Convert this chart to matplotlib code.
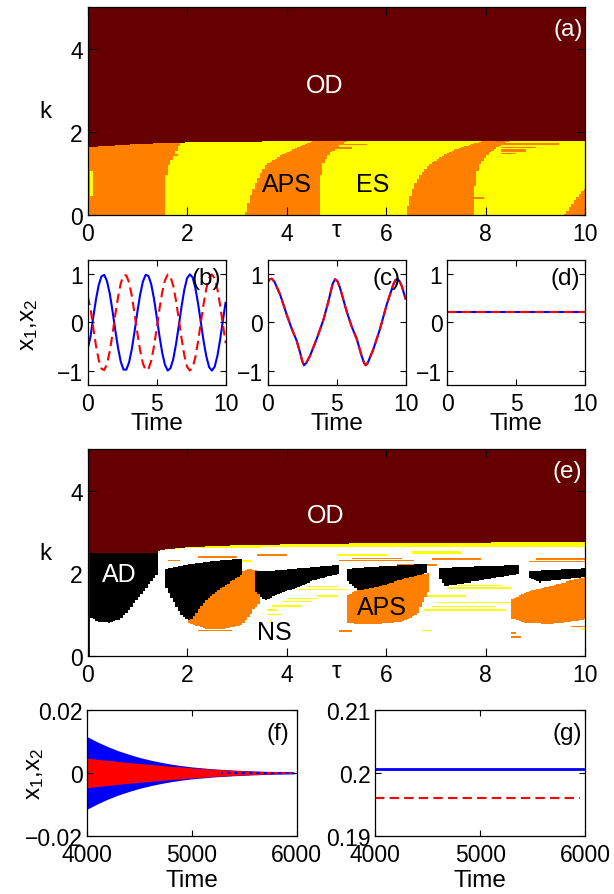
import numpy as np
import matplotlib
matplotlib.use('Agg')
import matplotlib.pyplot as plt
from matplotlib.colors import ListedColormap, BoundaryNorm

plt.rcParams['font.family'] = ['Liberation Sans', 'DejaVu Sans']
plt.rcParams['mathtext.fontset'] = 'custom'
plt.rcParams['mathtext.rm'] = 'Liberation Sans'
plt.rcParams['mathtext.it'] = 'Liberation Sans'
plt.rcParams['axes.linewidth'] = 0.9

# ------------------------------------------------------------------ data
state_names = ['NS', 'ES', 'APS', 'AD', 'OD']
state_colors = ['#FFFFFF', '#FFFF00', '#FF8000', '#000000', '#660000']

tau_ticks = [0, 2, 4, 6, 8, 10]
k_ticks = [0, 2, 4]

# panel (a): OD boundary k(tau)
a_od_tau = [0.0, 0.5, 1.0, 1.5, 2.0, 3.0, 5.0, 10.0]
a_od_k = [1.62, 1.66, 1.70, 1.72, 1.74, 1.76, 1.77, 1.77]
# APS/ES band boundaries: tau position at given k levels
a_band_k = [0.0, 0.4, 0.8, 1.2, 1.5, 1.8]
a_b1 = [1.55, 1.55, 1.55, 1.62, 1.75, 1.90]
a_b2 = [3.16, 3.25, 3.38, 3.57, 3.95, 4.60]
a_b3 = [4.65, 4.65, 4.66, 4.70, 4.85, 5.25]
a_b4 = [6.38, 6.46, 6.58, 6.85, 7.20, 8.00]
a_b5 = [7.75, 7.76, 7.78, 7.85, 8.05, 8.50]
a_b6 = [9.56, 9.80, 10.10, 10.50, 11.00, 11.50]
a_es_patch = [0.04, 0.12, 0.45, 1.05]  # tau0, tau1, k0, k1
# APS streaks reaching into ES bands: tau0, tau1, k
a_streak_t0 = [8.30, 8.30, 8.30, 8.30, 4.85, 4.90, 1.60, 7.60]
a_streak_t1 = [9.45, 9.00, 8.80, 8.60, 5.60, 5.30, 1.80, 7.95]
a_streak_k = [1.70, 1.62, 1.55, 1.48, 1.68, 1.60, 1.45, 0.40]

# panel (e)
e_od_tau = [0.0, 1.42, 1.45, 2.0, 3.0, 5.0, 7.0, 10.0]
e_od_k = [2.51, 2.51, 2.55, 2.62, 2.67, 2.71, 2.73, 2.75]
e_od_strip_tau = 0.04
e_es_band_tau = [1.45, 3.0, 5.0, 7.0, 10.0]
e_es_band_w = [0.0, 0.06, 0.09, 0.11, 0.13]

e_ad1_tau = [0.04, 0.24, 0.44, 0.64, 0.84, 1.05, 1.25, 1.42]
e_ad1_klo = [0.93, 0.83, 0.81, 0.89, 1.13, 1.46, 1.78, 2.00]
e_ad1_khi = [2.51, 2.51, 2.51, 2.51, 2.51, 2.51, 2.51, 2.51]
e_ad2_tau = [1.55, 1.85, 2.05, 2.38, 2.72, 3.12]
e_ad2_klo = [1.70, 1.01, 0.85, 1.37, 1.68, 1.98]
e_ad2_khi = [2.10, 2.17, 2.22, 2.28, 2.32, 2.36]
e_ad3_tau = [3.33, 3.55, 3.86, 4.20, 4.53, 5.03]
e_ad3_klo = [1.62, 1.33, 1.53, 1.66, 1.82, 1.98]
e_ad3_khi = [2.04, 2.05, 2.07, 2.11, 2.15, 2.20]
e_ad4_tau = [5.20, 5.44, 5.84, 6.24, 6.80]
e_ad4_klo = [1.82, 1.58, 1.69, 1.82, 2.00]
e_ad4_khi = [2.10, 2.13, 2.16, 2.19, 2.23]
e_ad5_tau = [7.05, 7.18, 7.89, 8.66]
e_ad5_klo = [1.90, 1.70, 1.82, 1.98]
e_ad5_khi = [2.12, 2.13, 2.17, 2.20]
e_ad6_tau = [8.86, 9.05, 10.0]
e_ad6_klo = [1.88, 1.78, 1.90]
e_ad6_khi = [2.04, 2.06, 2.12]

e_aps1_tau = [2.00, 2.38, 2.72, 3.10, 3.25, 3.45, 3.50]
e_aps1_klo = [0.80, 0.66, 0.65, 0.75, 1.00, 1.30, 1.80]
e_aps1_khi = [0.90, 1.45, 1.75, 2.05, 2.10, 2.05, 2.00]
e_aps2_tau = [5.20, 5.44, 5.84, 6.24, 6.60, 6.85]
e_aps2_klo = [0.80, 0.78, 0.78, 0.82, 1.00, 1.60]
e_aps2_khi = [1.45, 1.62, 1.72, 1.85, 1.95, 2.00]
e_aps3_tau = [8.50, 8.80, 9.30, 9.80, 10.0]
e_aps3_klo = [0.92, 0.80, 0.78, 0.85, 0.90]
e_aps3_khi = [1.35, 1.55, 1.70, 1.85, 1.90]

# thin streaks in (e): tau0, tau1, k, state
e_streak_t0 = [3.60, 3.62, 3.90, 4.00, 4.20, 4.40, 3.65, 4.60, 3.70,
               6.75, 6.90, 7.00, 7.20, 7.40, 6.70, 6.80, 9.50, 9.90, 2.80, 5.00, 6.50,
               5.07, 5.30, 8.86, 9.00, 6.90, 8.50, 8.52, 5.07, 1.58, 2.20, 3.40, 6.20, 2.20, 9.70]
e_streak_t1 = [3.90, 3.80, 4.50, 4.60, 5.20, 5.00, 3.72, 5.00, 4.30,
               8.40, 8.20, 8.50, 8.50, 8.30, 6.90, 7.60, 10.0, 10.0, 3.30, 6.00, 7.50,
               6.55, 6.30, 10.0, 10.0, 7.90, 8.70, 8.62, 5.30, 1.85, 3.00, 4.00, 7.00, 2.90, 10.0]
e_streak_k = [1.02, 1.10, 1.32, 1.38, 1.62, 1.68, 0.85, 1.45, 1.20,
              1.10, 1.18, 1.28, 1.65, 1.72, 0.62, 1.45, 1.20, 0.65, 2.30, 2.45, 2.50,
              2.32, 2.37, 2.28, 2.35, 2.35, 0.45, 0.55, 0.60, 2.32, 2.40, 2.45, 2.20, 0.62, 0.72]
e_streak_state = [1] * 21 + [2] * 14

# panel (b): anti-phase oscillation
b_time = np.linspace(0, 10, 51)
b_x1 = [-0.55, -0.30, 0.10, 0.48, 0.78, 0.96, 0.99, 0.86, 0.60, 0.24, -0.16,
        -0.53, -0.82, -0.98, -0.98, -0.83, -0.55, -0.18, 0.22, 0.58, 0.85,
        0.99, 0.97, 0.80, 0.50, 0.12, -0.28, -0.63, -0.88, -1.00, -0.95,
        -0.76, -0.45, -0.07, 0.33, 0.68, 0.92, 1.00, 0.94, 0.72, 0.39,
        0.00, -0.39, -0.71, -0.93, -1.00, -0.92, -0.69, -0.35, 0.05, 0.43]
b_x2 = [0.55, 0.30, -0.10, -0.48, -0.78, -0.96, -0.99, -0.86, -0.60, -0.24, 0.16,
        0.53, 0.82, 0.98, 0.98, 0.83, 0.55, 0.18, -0.22, -0.58, -0.85,
        -0.99, -0.97, -0.80, -0.50, -0.12, 0.28, 0.63, 0.88, 1.00, 0.95,
        0.76, 0.45, 0.07, -0.33, -0.68, -0.92, -1.00, -0.94, -0.72, -0.39,
        0.00, 0.39, 0.71, 0.93, 1.00, 0.92, 0.69, 0.35, -0.05, -0.43]

# panel (c): in-phase oscillation (x1 = x2)
c_time = [0, 0.15, 0.3, 0.5, 0.9, 1.38, 1.74, 2.1, 2.34, 2.5, 2.63, 2.8, 3.07,
          3.55, 4.03, 4.4, 4.7, 4.88, 5.05, 5.24, 5.72, 6.09, 6.45, 6.81, 6.98,
          7.1, 7.25, 7.66, 8.14, 8.62, 9.1, 9.25, 9.38, 9.55, 9.71, 10.0]
c_x1 = [0.84, 0.90, 0.91, 0.84, 0.58, 0.16, -0.13, -0.38, -0.62, -0.80, -0.89,
        -0.84, -0.69, -0.34, 0.05, 0.44, 0.80, 0.90, 0.86, 0.72, 0.23, -0.09,
        -0.34, -0.70, -0.84, -0.89, -0.84, -0.55, -0.13, 0.37, 0.79, 0.88,
        0.91, 0.86, 0.76, 0.48]
c_x2 = c_x1

# panel (d): steady state
d_time = [0, 10]
d_x1 = [0.21, 0.21]
d_x2 = [0.21, 0.21]

# panel (f): decaying oscillation envelopes
f_time = [4000, 4100, 4200, 4300, 4400, 4500, 4600, 4700, 4800, 4900, 5000,
          5200, 5400, 5600, 5800, 5975]
f_amp1 = [0.0115, 0.0098, 0.0083, 0.0070, 0.0059, 0.0049, 0.0041, 0.0034,
          0.0028, 0.0023, 0.0019, 0.0013, 0.0009, 0.0006, 0.0004, 0.0003]
f_amp2 = [0.0047, 0.0043, 0.0040, 0.0036, 0.0033, 0.0030, 0.0027, 0.0024,
          0.0021, 0.0019, 0.0016, 0.0012, 0.0008, 0.0005, 0.0003, 0.0002]
f_tail_time = [5300, 5960]
f_tail_val = [0.0, 0.0]

# panel (g): inhomogeneous steady state
g_time = [4000, 5975]
g_x1 = [0.2007, 0.2007]
g_time2 = [4000, 5950]
g_x2 = [0.1960, 0.1960]

# ------------------------------------------------------------------ helpers
FS = 16.5
cmap = ListedColormap(state_colors)
norm = BoundaryNorm(np.arange(-0.5, 5.5, 1), cmap.N)

NT, NK = 200, 200
tau_c = (np.arange(NT) + 0.5) * 10.0 / NT
k_c = (np.arange(NK) + 0.5) * 5.0 / NK
T, K = np.meshgrid(tau_c, k_c)
dk = 5.0 / NK


def region(tt, klo, khi):
    return ((T >= tt[0]) & (T <= tt[-1]) &
            (K >= np.interp(T, tt, klo)) & (K <= np.interp(T, tt, khi)))


# build (a)
count = np.zeros(T.shape, dtype=int)
for b in [a_b1, a_b2, a_b3, a_b4, a_b5, a_b6]:
    count += (T > np.interp(K, a_band_k, b)).astype(int)
A = np.where(count % 2 == 0, 2, 1)
t0, t1, k0, k1 = a_es_patch
A[(T >= t0) & (T <= t1) & (K >= k0) & (K <= k1)] = 1
for t0, t1, kk in zip(a_streak_t0, a_streak_t1, a_streak_k):
    A[(T >= t0) & (T <= t1) & (np.abs(K - kk) <= dk * 0.6)] = 2
A[K > np.interp(T, a_od_tau, a_od_k)] = 4

# build (e)
E = np.zeros(T.shape, dtype=int)
for t0, t1, kk, st in zip(e_streak_t0, e_streak_t1, e_streak_k, e_streak_state):
    E[(T >= t0) & (T <= t1) & (np.abs(K - kk) <= dk * 0.6)] = st
for tt, lo, hi in [(e_aps1_tau, e_aps1_klo, e_aps1_khi),
                   (e_aps2_tau, e_aps2_klo, e_aps2_khi),
                   (e_aps3_tau, e_aps3_klo, e_aps3_khi)]:
    E[region(tt, lo, hi)] = 2
for tt, lo, hi in [(e_ad1_tau, e_ad1_klo, e_ad1_khi),
                   (e_ad2_tau, e_ad2_klo, e_ad2_khi),
                   (e_ad3_tau, e_ad3_klo, e_ad3_khi),
                   (e_ad4_tau, e_ad4_klo, e_ad4_khi),
                   (e_ad5_tau, e_ad5_klo, e_ad5_khi),
                   (e_ad6_tau, e_ad6_klo, e_ad6_khi)]:
    E[region(tt, lo, hi)] = 3
od_line = np.interp(T, e_od_tau, e_od_k)
band_w = np.interp(T, e_es_band_tau, e_es_band_w)
E[(K > od_line - band_w) & (T > e_es_band_tau[0])] = 1
E[K > od_line] = 4
E[T < e_od_strip_tau] = 4


def style(ax, xt, yt, xl, yl, ytl=None, tl=4.0):
    ax.set_xlim(xl)
    ax.set_ylim(yl)
    ax.set_xticks(xt)
    ax.set_yticks(yt)
    if ytl is not None:
        ax.set_yticklabels(ytl)
    ax.tick_params(direction='in', top=True, right=True, length=tl, width=0.8,
                   labelsize=FS, color='black')
    ax.tick_params(axis='x', pad=5)
    ax.tick_params(axis='y', pad=3.5)


X12 = r'$\mathregular{x_1}$,$\mathregular{x_2}$'

fig = plt.figure(figsize=(6.14, 8.95), dpi=100)

# ---- (a)
ax_a = fig.add_axes([0.1428, 0.7590, 0.8099, 0.2321])
ax_a.imshow(A, origin='lower', extent=[0, 10, 0, 5], aspect='auto', cmap=cmap,
            norm=norm, interpolation='nearest')
style(ax_a, tau_ticks, k_ticks, (0, 10), (0, 5), tl=6)
ax_a.text(-0.084, 0.5, 'k', transform=ax_a.transAxes, fontsize=FS + 1,
          ha='center', va='center')
ax_a.text(0.5, -0.075, 'τ', transform=ax_a.transAxes, fontsize=FS + 1,
          ha='center', va='center')
ax_a.text(4.77, 3.13, 'OD', color='white', fontsize=18, ha='center', va='center')
ax_a.text(4.0, 0.73, 'APS', color='black', fontsize=18, ha='center', va='center')
ax_a.text(5.74, 0.73, 'ES', color='black', fontsize=18, ha='center', va='center')
ax_a.text(0.995, 0.895, '(a)', transform=ax_a.transAxes, color='white',
          fontsize=17.5, ha='right', va='center')

# ---- (b), (c), (d)
small_bottom, small_h, small_w = 0.5687, 0.1397, 0.2248
lefts = [0.1428, 0.4360, 0.7285]
series = [(b_time, b_x1, b_x2, '(b)'), (c_time, c_x1, c_x2, '(c)'),
          (d_time, d_x1, d_x2, '(d)')]
for i, (tt, x1, x2, lab) in enumerate(series):
    ax = fig.add_axes([lefts[i], small_bottom, small_w, small_h])
    ax.plot(tt, x1, color='#0000FF', lw=1.5, solid_capstyle='butt')
    ax.plot(tt, x2, color='#FF0000', lw=1.5, ls='--', dashes=(4.5, 2.5))
    style(ax, [0, 5, 10], [-1, 0, 1], (0, 10), (-1.3, 1.3), tl=4)
    ax.text(0.5, -0.30, 'Time', transform=ax.transAxes, fontsize=FS + 1,
            ha='center', va='center')
    ax.text(0.964, 0.855, lab, transform=ax.transAxes, fontsize=17.5,
            ha='right', va='center')
    if i == 0:
        ax.text(-0.425, 0.49, X12, transform=ax.transAxes,
                fontsize=FS + 1, rotation=90, ha='center', va='center')

# ---- (e)
ax_e = fig.add_axes([0.1428, 0.2663, 0.8099, 0.2304])
ax_e.imshow(E, origin='lower', extent=[0, 10, 0, 5], aspect='auto', cmap=cmap,
            norm=norm, interpolation='nearest')
style(ax_e, tau_ticks, k_ticks, (0, 10), (0, 5), tl=6)
ax_e.text(-0.084, 0.5, 'k', transform=ax_e.transAxes, fontsize=FS + 1,
          ha='center', va='center')
ax_e.text(0.5, -0.075, 'τ', transform=ax_e.transAxes, fontsize=FS + 1,
          ha='center', va='center')
ax_e.text(4.78, 3.40, 'OD', color='white', fontsize=18, ha='center', va='center')
ax_e.text(0.64, 1.98, 'AD', color='white', fontsize=18, ha='center', va='center')
ax_e.text(5.91, 1.17, 'APS', color='black', fontsize=18, ha='center', va='center')
ax_e.text(3.76, 0.57, 'NS', color='black', fontsize=18, ha='center', va='center')
ax_e.text(0.995, 0.895, '(e)', transform=ax_e.transAxes, color='white',
          fontsize=17.5, ha='right', va='center')

# ---- (f)
ax_f = fig.add_axes([0.1422, 0.0651, 0.3410, 0.1404])
f_t = np.array(f_time)
a1 = np.array(f_amp1)
a2 = np.array(f_amp2)
ax_f.fill_between(f_t, -a1, a1, color='#0000FF', lw=0)
ax_f.plot(f_tail_time, f_tail_val, color='#0000FF', lw=1.5)
ax_f.fill_between(f_t[:-1], -a2[:-1], a2[:-1], color='#FF0000', lw=0)
ax_f.plot(f_tail_time, f_tail_val, color='#FF0000', lw=1.5, ls='--',
          dashes=(2, 1.5))
style(ax_f, [4000, 5000, 6000], [-0.02, 0, 0.02], (4000, 6000), (-0.02, 0.02),
      ytl=['\u22120.02', '0', '0.02'], tl=4)
ax_f.text(-0.25, 0.5, X12, transform=ax_f.transAxes,
          fontsize=FS + 1, rotation=90, ha='center', va='center')
ax_f.text(0.5, -0.352, 'Time', transform=ax_f.transAxes, fontsize=FS + 1,
          ha='center', va='center')
ax_f.text(0.965, 0.82, '(f)', transform=ax_f.transAxes, fontsize=17.5,
          ha='right', va='center')

# ---- (g)
ax_g = fig.add_axes([0.6112, 0.0651, 0.3420, 0.1404])
ax_g.plot(g_time, g_x1, color='#0000FF', lw=2)
ax_g.plot(g_time2, g_x2, color='#FF0000', lw=1.5, ls='--', dashes=(4.5, 2.5))
style(ax_g, [4000, 5000, 6000], [0.19, 0.2, 0.21], (4000, 6000), (0.19, 0.21),
      ytl=['0.19', '0.2', '0.21'], tl=4)
ax_g.text(0.5, -0.352, 'Time', transform=ax_g.transAxes, fontsize=FS + 1,
          ha='center', va='center')
ax_g.text(0.983, 0.82, '(g)', transform=ax_g.transAxes, fontsize=17.5,
          ha='right', va='center')

fig.savefig('out.png', dpi=100)
